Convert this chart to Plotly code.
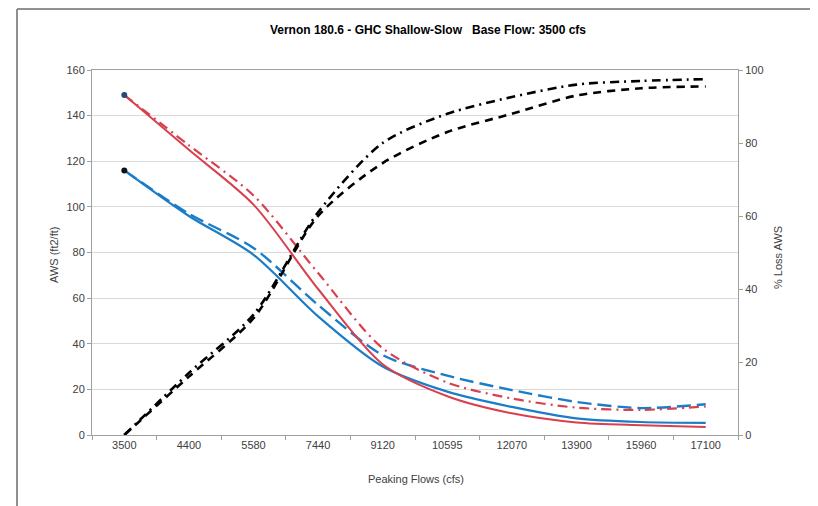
import plotly.graph_objects as go

categories = ["3500", "4400", "5580", "7440", "9120", "10595", "12070", "13900", "15960", "17100"]
aws_red_solid = [149, 125, 101, 64, 31, 17, 9.5, 5.5, 4.3, 3.5]
aws_red_dashdot = [149, 127, 105, 71, 38, 23, 16, 12, 11, 12.5]
aws_blue_solid = [116, 96, 79, 52, 30, 19, 12.3, 7.3, 5.7, 5.3]
aws_blue_dash = [116, 97, 82, 57, 35, 26, 19.7, 14.5, 11.8, 13.5]
loss_dash = [0, 16, 32, 60, 74.5, 83, 88, 93, 95, 95.5]
loss_dashdot = [0, 17, 33, 61, 80, 88, 92.6, 96, 97, 97.5]
left_ticks = [0, 20, 40, 60, 80, 100, 120, 140, 160]
right_ticks = [0, 20, 40, 60, 80, 100]

RED = "#D9404E"
BLUE = "#1B7CC8"
FONT = "Liberation Sans, Arial, sans-serif"

fig = go.Figure()

def line(y, color, dash, width, axis="y"):
    fig.add_trace(go.Scatter(
        x=categories, y=y, mode="lines", yaxis=axis,
        line=dict(color=color, dash=dash, width=width, shape="spline", smoothing=0.8),
        showlegend=False, hoverinfo="skip"))

line(loss_dash, "#000000", "8px,6px", 2.6, "y2")
line(loss_dashdot, "#000000", "9px,5px,2px,5px", 2.6, "y2")
line(aws_blue_dash, BLUE, "14px,6px", 2.4)
line(aws_red_dashdot, RED, "10px,5px,2px,5px", 2.2)
line(aws_blue_solid, BLUE, "solid", 2.2)
line(aws_red_solid, RED, "solid", 2.0)

# first-point markers
fig.add_trace(go.Scatter(x=[categories[0]], y=[aws_red_solid[0]], mode="markers",
                         marker=dict(color="#1F4E79", size=6), showlegend=False, hoverinfo="skip"))
fig.add_trace(go.Scatter(x=[categories[0]], y=[aws_blue_solid[0]], mode="markers",
                         marker=dict(color="#111111", size=6), showlegend=False, hoverinfo="skip"))

tickfont = dict(family=FONT, size=11, color="#404040")

# page has an 8px body offset; margins compensate so the plot area sits at x 92-738, y 70-435
fig.update_layout(
    width=818, height=506, autosize=False,
    margin=dict(l=84, r=88, t=62, b=79),
    paper_bgcolor="white", plot_bgcolor="white",
    title=dict(text="<b>Vernon 180.6 - GHC Shallow-Slow   Base Flow: 3500 cfs</b>",
               x=420 / 818, xanchor="center", y=1 - 22 / 506, yanchor="middle",
               font=dict(family=FONT, size=12, color="#000000")),
    xaxis=dict(type="category", range=[-0.5, 9.5], showgrid=False,
               showline=True, linecolor="#A0A0A0", linewidth=1, mirror=True,
               ticks="outside", tickson="boundaries", ticklen=4, tickcolor="#A0A0A0",
               tickfont=tickfont, zeroline=False),
    yaxis=dict(range=[0, 160], tickvals=left_ticks, showgrid=True, gridcolor="#D9D9D9",
               gridwidth=1, showline=True, linecolor="#A0A0A0", linewidth=1,
               ticks="outside", ticklen=4, tickcolor="#A0A0A0", tickfont=tickfont,
               zeroline=False),
    yaxis2=dict(range=[0, 100], tickvals=right_ticks, overlaying="y", side="right",
                showgrid=False, showline=True, linecolor="#A0A0A0", linewidth=1,
                ticks="outside", ticklen=4, tickcolor="#A0A0A0", tickfont=tickfont,
                zeroline=False),
)

def px(x):
    return (x - 92) / 646

def py(y):
    return (435 - y) / 365

# axis titles
fig.add_annotation(text="Peaking Flows (cfs)", xref="paper", yref="paper",
                   x=px(416), y=py(487), showarrow=False,
                   font=dict(family=FONT, size=11, color="#404040"))
fig.add_annotation(text="AWS (ft2/ft)", xref="paper", yref="paper", textangle=-90,
                   x=px(46), y=py(255), showarrow=False,
                   font=dict(family=FONT, size=11, color="#404040"))
fig.add_annotation(text="% Loss AWS", xref="paper", yref="paper", textangle=-90,
                   x=px(786), y=py(258), showarrow=False,
                   font=dict(family=FONT, size=11, color="#404040"))

# outer chart frame
fig.add_shape(type="line", xref="paper", yref="paper", x0=px(17), x1=px(840),
              y0=py(9), y1=py(9), line=dict(color="#909090", width=2))
fig.add_shape(type="line", xref="paper", yref="paper", x0=px(17), x1=px(17),
              y0=py(9), y1=py(530), line=dict(color="#909090", width=2))

fig.write_html("out.html")
